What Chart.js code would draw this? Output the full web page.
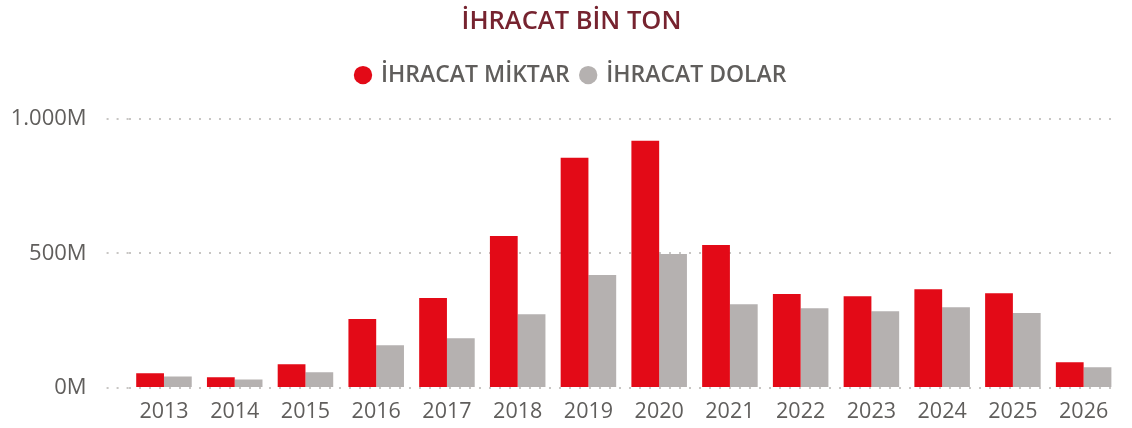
<!DOCTYPE html>
<html>
<head>
<meta charset="utf-8">
<script src="https://cdn.jsdelivr.net/npm/chart.js@4/dist/chart.umd.min.js"></script>
<style>
  html, body { margin: 0; padding: 0; background: #fff; }
  #wrap { width: 1132px; height: 428px; }
</style>
</head>
<body>
<div id="wrap"><canvas id="exportChart"></canvas></div>
<script>
// Data (values in millions)
const years = ['2013', '2014', '2015', '2016', '2017', '2018', '2019', '2020', '2021', '2022', '2023', '2024', '2025', '2026'];
const miktar = [55, 40, 88, 256, 334, 564, 855, 918, 531, 349, 341, 367, 352, 96];
const dolar = [43, 32, 58, 159, 185, 274, 419, 497, 311, 296, 285, 300, 278, 77];
const yTicks = [0, 500, 1000];

const FONT = "'Open Sans', 'Noto Sans', sans-serif";
const TEXT_GRAY = '#605E5C';
const GRID_GRAY = '#c8c6c4';

function fmtM(v) {
  return String(v).replace(/\B(?=(\d{3})+(?!\d))/g, '.') + 'M';
}

// room under the legend + nudge title/legend a bit right
const headerTweaks = {
  id: 'headerTweaks',
  beforeInit(chart) {
    const fit = chart.legend.fit;
    chart.legend.fit = function () {
      fit.call(this);
      this.height += 22;
    };
  },
  afterLayout(chart) {
    if (chart.titleBlock) chart.titleBlock.left += 24;
    if (chart.legend) chart.legend.left += 24;
  }
};

new Chart(document.getElementById('exportChart'), {
  type: 'bar',
  data: {
    labels: years,
    datasets: [
      { label: 'İHRACAT MİKTAR', data: miktar, backgroundColor: '#E30A17' },
      { label: 'İHRACAT DOLAR', data: dolar, backgroundColor: '#B5B1B0' }
    ]
  },
  options: {
    responsive: true,
    maintainAspectRatio: false,
    animation: false,
    datasets: { bar: { categoryPercentage: 0.785, barPercentage: 1 } },
    layout: { padding: { left: 0, right: 13, bottom: 0 } },
    plugins: {
      title: {
        display: true,
        text: 'İHRACAT BİN TON',
        color: '#76232F',
        font: { family: FONT, size: 25.5, weight: '600' },
        padding: { top: 6, bottom: 15 }
      },
      legend: {
        display: true,
        labels: {
          usePointStyle: true,
          pointStyle: 'circle',
          boxWidth: 13,
          boxHeight: 13,
          padding: 12,
          color: TEXT_GRAY,
          font: { family: FONT, size: 23, weight: '600' }
        }
      },
      tooltip: { enabled: false }
    },
    scales: {
      x: {
        grid: { display: false },
        border: { display: false },
        afterFit(scale) {
          scale.height = 40;
        },
        ticks: { color: TEXT_GRAY, padding: 3, font: { family: FONT, size: 21.5 } }
      },
      y: {
        min: 0,
        max: 1000,
        afterBuildTicks(scale) {
          scale.ticks = yTicks.map(v => ({ value: v }));
        },
        afterFit(scale) {
          scale.width = 128.6;
        },
        grid: {
          color: GRID_GRAY,
          lineWidth: 2,
          drawTicks: true,
          tickLength: 22,
          tickColor: GRID_GRAY,
          tickWidth: 2,
          tickBorderDash: [2, 8]
        },
        border: { display: false, dash: [2, 8] },
        ticks: {
          color: TEXT_GRAY,
          padding: 20,
          font: { family: FONT, size: 22 },
          callback: v => fmtM(v)
        }
      }
    }
  },
  plugins: [headerTweaks]
});
</script>
</body>
</html>
